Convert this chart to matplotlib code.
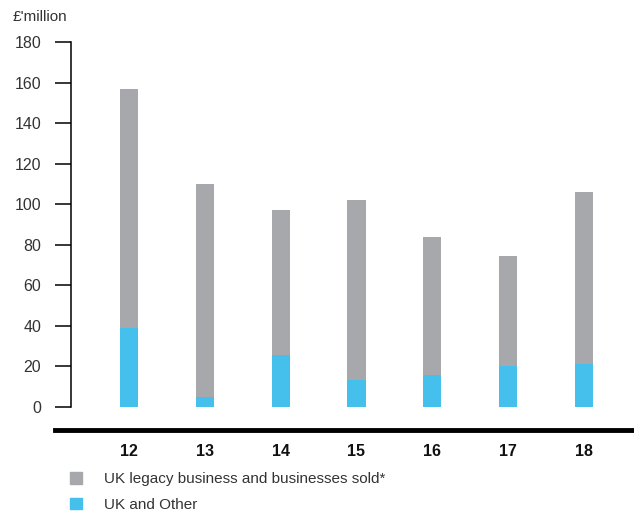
import matplotlib.pyplot as plt
from matplotlib.lines import Line2D
from matplotlib.patches import Patch

years = ['12', '13', '14', '15', '16', '17', '18']
uk_other = [39, 5, 25.5, 13.5, 16, 20.2, 21.3]
totals = [156.8, 110, 97.2, 102, 83.8, 74.6, 106]
legacy = [t - u for t, u in zip(totals, uk_other)]

GREY = '#a7a8ab'
BLUE = '#45bfec'
TEXT = '#333333'

plt.rcParams['font.family'] = ['Liberation Sans', 'DejaVu Sans']

W, H = 634, 515
fig = plt.figure(figsize=(W / 100, H / 100), dpi=100)

# axes spans from the y spine (x=71px) to the right edge, 180 at 42px, baseline at 430px
y_bottom = -(430 - 407) / ((407 - 42) / 180)
ax = fig.add_axes([71 / W, 1 - 430 / H, 1 - 71 / W, (430 - 42) / H])

x = list(range(len(years)))
ax.bar(x, uk_other, width=0.24, color=BLUE, zorder=2)
ax.bar(x, legacy, width=0.24, bottom=uk_other, color=GREY, zorder=2)

ax.set_xlim(-0.765, 6.66)
ax.set_ylim(y_bottom, 180)

for s in ['top', 'right', 'bottom']:
    ax.spines[s].set_visible(False)
ax.spines['left'].set_bounds(0, 180)
ax.spines['left'].set_linewidth(1.1)

ax.set_yticks(range(0, 181, 20))
ax.tick_params(axis='y', direction='out', length=11.5, width=1.1, pad=10,
               labelsize=11.5, labelcolor=TEXT)
ax.set_xticks(x)
ax.set_xticklabels(years, fontweight='bold', fontsize=11.5, color='#111111')
ax.tick_params(axis='x', length=0, pad=10)

# thick baseline under the chart
fig.add_artist(Line2D([55 / W, 1], [1 - 430 / H, 1 - 430 / H], color='black',
                      linewidth=3.5, transform=fig.transFigure))

fig.text(13 / W, 1 - 17 / H, "£'million", fontsize=11, color=TEXT, va='center')

handles = [Patch(color=GREY), Patch(color=BLUE)]
labels = ['UK legacy business and businesses sold*', 'UK and Other']
fig.legend(handles, labels, loc='upper left', bbox_to_anchor=(64 / W, 1 - 466 / H),
           frameon=False, fontsize=11, labelcolor=TEXT, handlelength=0.8,
           handleheight=0.8, handletextpad=1.4, labelspacing=0.75,
           borderaxespad=0)

fig.savefig('out.png', dpi=100)
